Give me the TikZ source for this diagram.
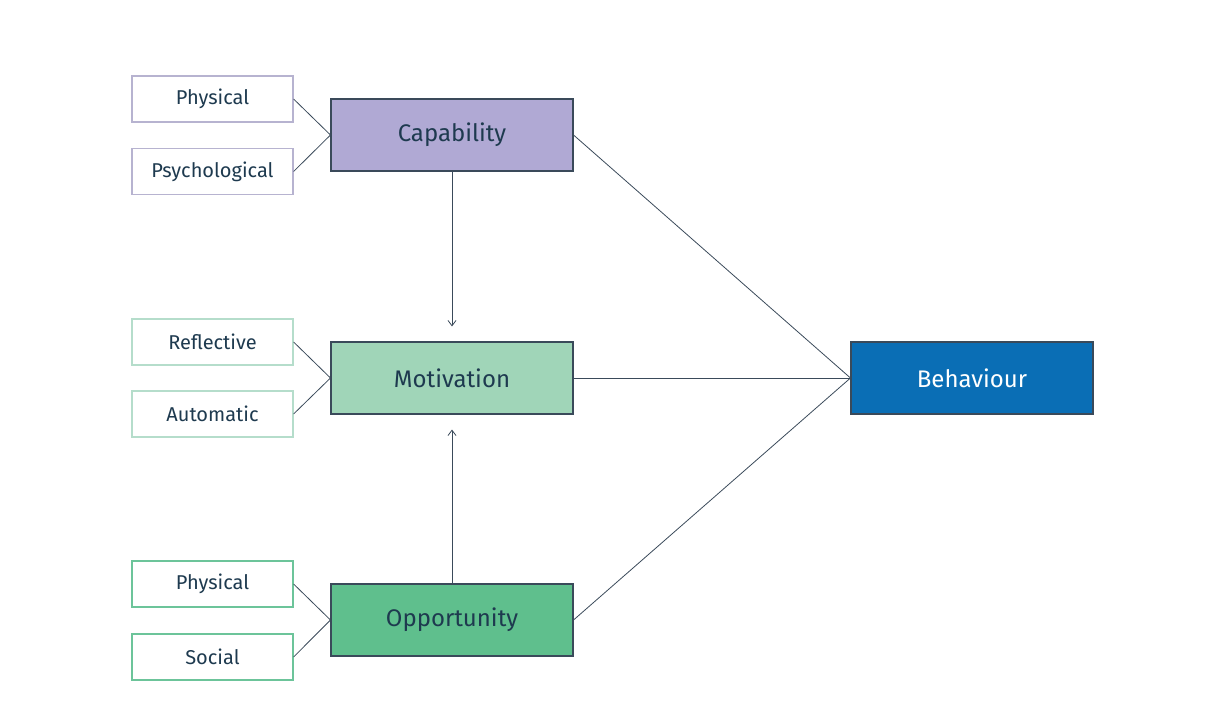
\documentclass[tikz,border=0pt]{standalone}
\usepackage{fontspec}
\setmainfont{Fira Sans}
\usetikzlibrary{arrows.meta}
\definecolor{txt}{HTML}{1E3A4F}
\definecolor{ln}{HTML}{3A4A5A}
\definecolor{capf}{HTML}{B0A9D4}
\definecolor{motf}{HTML}{A0D5B8}
\definecolor{oppf}{HTML}{5FBF8D}
\definecolor{behf}{HTML}{0A6EB5}
\definecolor{capb}{HTML}{B7B3D0}
\definecolor{motb}{HTML}{B5DDCB}
\definecolor{oppb}{HTML}{6CC49A}
\begin{document}
\begin{tikzpicture}[x=0.75pt,y=-0.75pt,
  small/.style={draw=#1,line width=0.9pt,fill=white,minimum width=161*0.75pt,minimum height=46*0.75pt,inner sep=0pt,text=txt,font=\fontsize{15}{15}\selectfont},
  big/.style={draw=ln,line width=0.8pt,fill=#1,minimum width=242*0.75pt,minimum height=72*0.75pt,inner sep=0pt,text=txt,font=\fontsize{18}{18}\selectfont},
  con/.style={draw=ln,line width=0.6pt},
  arr/.style={con,-{Straight Barb[length=4pt,width=6pt]},shorten >=15*0.75pt}]
\useasboundingbox (0,0) rectangle (1211,723);
\node[small=capb] (p1) at (212.5,99) {Physical};
\node[small=capb] (p2) at (212.5,171.5) {Psychological};
\node[small=motb] (r1) at (212.5,342) {Reflective};
\node[small=motb] (a1) at (212.5,414) {Automatic};
\node[small=oppb] (o1) at (212.5,584) {Physical};
\node[small=oppb] (s1) at (212.5,657) {Social};
\node[big=capf] (cap) at (452,135) {Capability};
\node[big=motf] (mot) at (452,378) {Motivation};
\node[big=oppf] (opp) at (452,620) {Opportunity};
\node[big=behf,text=white] (beh) at (972,378) {Behaviour};
\foreach \a/\b in {p1/cap,p2/cap,r1/mot,a1/mot,o1/opp,s1/opp}
  \draw[con] (\a.east) -- (\b.west);
\draw[con] (cap.east) -- (beh.west);
\draw[con] (mot.east) -- (beh.west);
\draw[con] (opp.east) -- (beh.west);
\draw[arr] (cap.south) -- (mot.north);
\draw[arr] (opp.north) -- (mot.south);
\end{tikzpicture}
\end{document}
